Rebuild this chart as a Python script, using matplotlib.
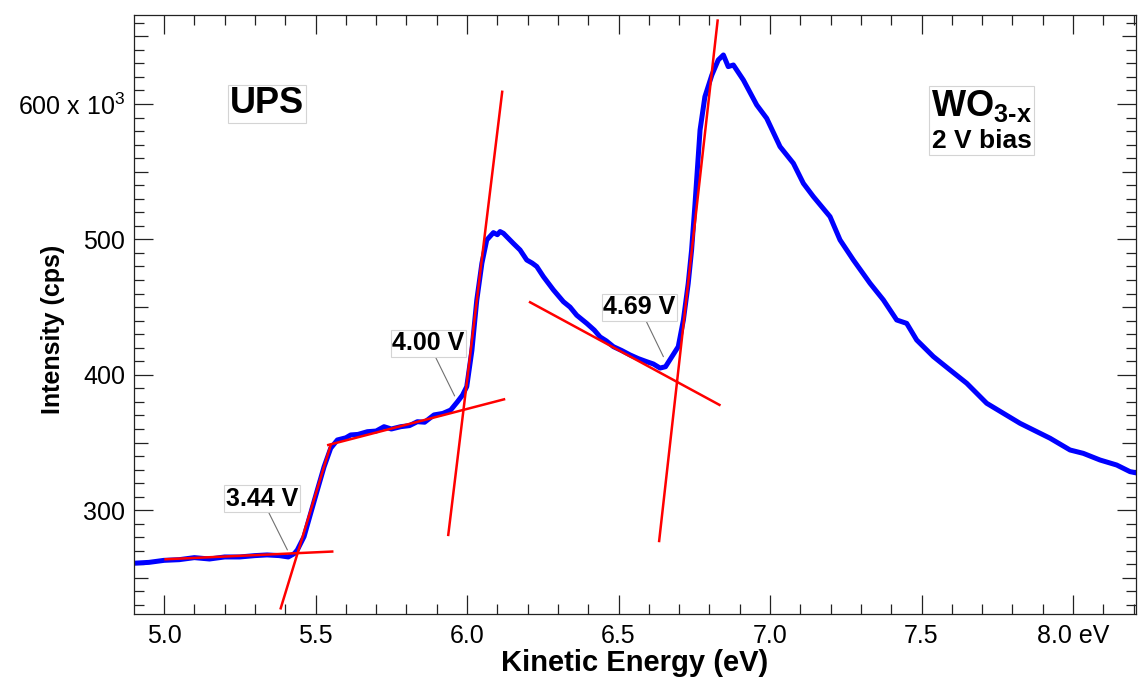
import matplotlib.pyplot as plt
from matplotlib.offsetbox import AnnotationBbox, TextArea, VPacker
from matplotlib.ticker import FuncFormatter, MultipleLocator

plt.rcParams["font.family"] = ["Liberation Sans", "DejaVu Sans"]
plt.rcParams["mathtext.default"] = "regular"

# UPS spectrum: kinetic energy [eV], intensity [10^3 cps]
energy = [
    4.91, 4.95, 5.00, 5.05, 5.10, 5.15, 5.20, 5.25, 5.30, 5.34,
    5.38, 5.41, 5.43, 5.44, 5.462, 5.484, 5.506, 5.528, 5.550, 5.572,
    5.60, 5.616, 5.64, 5.671, 5.70, 5.726, 5.75, 5.781, 5.81, 5.836,
    5.86, 5.891, 5.92, 5.946, 5.968, 5.985, 5.999, 6.016, 6.032, 6.049,
    6.065, 6.087, 6.10, 6.109, 6.12, 6.153, 6.175, 6.197, 6.215, 6.230,
    6.252, 6.285, 6.318, 6.34, 6.362, 6.395, 6.42, 6.439, 6.46, 6.483,
    6.51, 6.538, 6.565, 6.593, 6.615, 6.637, 6.655, 6.676, 6.697, 6.714,
    6.730, 6.741, 6.752, 6.769, 6.785, 6.808, 6.829, 6.846, 6.862, 6.879,
    6.912, 6.956, 6.989, 7.033, 7.077, 7.110, 7.143, 7.198, 7.231, 7.275,
    7.330, 7.374, 7.418, 7.451, 7.484, 7.539, 7.594, 7.649, 7.715, 7.770,
    7.825, 7.869, 7.924, 7.990, 8.034, 8.089, 8.144, 8.188, 8.21,
]
intensity = [
    261.0, 261.5, 263.0, 263.5, 265.0, 264.0, 265.5, 265.5, 266.5, 267.0,
    266.5, 265.5, 268.0, 270.7, 280.5, 297.8, 315.0, 332.0, 345.8, 351.9,
    353.5, 355.6, 356.0, 358.0, 358.5, 361.7, 360.0, 361.7, 362.5, 365.4,
    365.0, 370.4, 371.5, 374.0, 380.0, 385.0, 391.3, 418.0, 455.0, 482.4,
    499.6, 505.0, 503.5, 505.8, 504.5, 497.0, 492.2, 484.8, 482.5, 480.0,
    472.5, 462.7, 454.0, 450.0, 444.0, 438.0, 433.0, 428.0, 425.0, 420.8,
    418.0, 414.7, 412.0, 409.7, 408.0, 405.0, 406.0, 413.4, 420.8, 440.5,
    467.6, 492.0, 525.0, 580.8, 605.4, 621.4, 632.5, 636.2, 627.6, 628.8,
    617.7, 599.3, 589.4, 568.5, 556.2, 541.4, 531.6, 516.8, 499.6, 484.8,
    467.6, 455.3, 440.5, 438.0, 425.7, 413.5, 403.6, 393.8, 379.0, 371.6,
    364.2, 359.3, 353.2, 344.5, 342.0, 337.1, 333.4, 328.5, 327.5,
]

# straight-line fits for the onset extrapolation (end points)
flat1_e, flat1_i = [5.005, 5.555], [263.8, 269.5]
rise1_e, rise1_i = [5.385, 5.550], [227.6, 348.2]
flat2_e, flat2_i = [5.542, 6.122], [348.2, 381.9]
rise2_e, rise2_i = [5.938, 6.116], [281.8, 609.0]
slope3_e, slope3_i = [6.208, 6.833], [453.6, 377.8]
rise3_e, rise3_i = [6.634, 6.827], [277.3, 661.6]

# onsets: label, crossing point of the fits
onset_labels = ["3.44 V", "4.00 V", "4.69 V"]
onset_e = [5.407, 5.959, 6.648]
onset_i = [270.7, 384.4, 413.4]

fig = plt.figure(figsize=(11.38, 6.8), dpi=100)
ax = fig.add_axes([0.1178, 0.0971, 0.8805, 0.8804])

ax.plot(energy, intensity, color="#0000ff", linewidth=3.6, solid_joinstyle="round", zorder=2)
for fe, fi in [
    (flat1_e, flat1_i),
    (rise1_e, rise1_i),
    (flat2_e, flat2_i),
    (rise2_e, rise2_i),
    (slope3_e, slope3_i),
    (rise3_e, rise3_i),
]:
    ax.plot(fe, fi, color="#ff0000", linewidth=1.8, zorder=3)

# onset labels with leader lines
label_pos = [(5.323, 308.4), (5.873, 423.5), (6.569, 449.9)]
for lab, x, y, (tx, ty) in zip(onset_labels, onset_e, onset_i, label_pos):
    ax.annotate(
        lab,
        xy=(x, y),
        xytext=(tx, ty),
        ha="center",
        va="center",
        fontsize=18,
        fontweight="bold",
        bbox=dict(boxstyle="square,pad=0.06", fc="white", ec="#d4d4d4", lw=0.8),
        arrowprops=dict(arrowstyle="-", color="#707070", lw=0.8, shrinkA=0, shrinkB=0),
        zorder=4,
    )

ax.text(
    5.34, 600, "UPS",
    ha="center", va="center", fontsize=26, fontweight="bold",
    bbox=dict(boxstyle="square,pad=0.05", fc="white", ec="#d4d4d4", lw=0.8),
    zorder=4,
)

sample_box = VPacker(
    children=[
        TextArea("WO$_{3\u2010x}$", textprops=dict(fontsize=26, fontweight="bold")),
        TextArea("2 V bias", textprops=dict(fontsize=19, fontweight="bold")),
    ],
    align="right",
    pad=0,
    sep=3,
)
ab = AnnotationBbox(
    sample_box,
    (7.699, 587.8),
    frameon=True,
    pad=0.15,
    box_alignment=(0.5, 0.5),
    bboxprops=dict(ec="#d4d4d4", fc="white", lw=0.8),
    zorder=4,
)
ax.add_artist(ab)

# axes, ticks
ax.set_xlim(4.901, 8.208)
ax.set_ylim(223.4, 665.5)

ax.xaxis.set_major_locator(MultipleLocator(0.5))
ax.xaxis.set_minor_locator(MultipleLocator(0.1))
ax.yaxis.set_major_locator(MultipleLocator(50))
ax.yaxis.set_minor_locator(MultipleLocator(10))


def fmt_x(v, pos):
    s = f"{v:.1f}"
    return s + " eV" if abs(v - 8.0) < 1e-6 else s


def fmt_y(v, pos):
    if round(v) % 100:
        return ""
    if round(v) == 600:
        return "600 x 10$^{3}$"
    return f"{v:.0f}"


ax.xaxis.set_major_formatter(FuncFormatter(fmt_x))
ax.yaxis.set_major_formatter(FuncFormatter(fmt_y))

ax.tick_params(which="both", direction="in", top=True, right=True, width=0.9, color="#222222")
ax.tick_params(which="major", length=13.5, labelsize=18)
ax.tick_params(which="minor", length=7.2)
ax.tick_params(axis="x", pad=7)
ax.tick_params(axis="y", pad=6.5)

# the 50k ticks are drawn a bit shorter than the 100k ones
for v, tick in zip(ax.yaxis.get_majorticklocs(), ax.yaxis.get_major_ticks()):
    if round(v) % 100:
        tick.tick1line.set_markersize(10)
        tick.tick2line.set_markersize(10)

for sp in ax.spines.values():
    sp.set_linewidth(0.9)
    sp.set_color("#222222")

ax.set_xlabel("Kinetic Energy (eV)", fontsize=21, fontweight="bold")
ax.set_ylabel("Intensity (cps)", fontsize=18, fontweight="bold")
ax.xaxis.set_label_coords(0.5, -0.058)
ax.yaxis.set_label_coords(-0.069, 0.476)

fig.savefig("out.png", dpi=100)
